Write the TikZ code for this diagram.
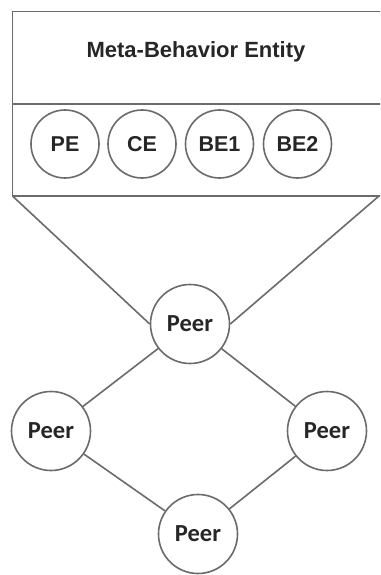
\documentclass[tikz,border=0pt]{standalone}
\usepackage{fontspec}
\setmainfont{Liberation Sans}
\newfontfamily\peerfont{Carlito}
\begin{document}
\begin{tikzpicture}[x=1pt,y=-1pt,
  frame/.style={draw=black!58,line width=1.7pt},
  link/.style={draw=black!58,line width=1.6pt},
  ent/.style={circle,draw=black!58,line width=1.6pt,minimum size=68pt,inner sep=0pt,
    font=\fontsize{21.5}{24}\selectfont\bfseries,text=black!85},
  peer/.style={circle,draw=black!58,line width=1.6pt,minimum size=79pt,inner sep=0pt,
    font=\peerfont\fontsize{24.5}{26}\selectfont\bfseries,text=black!85},
  title/.style={font=\fontsize{22}{24}\selectfont\bfseries,text=black!85}]
\useasboundingbox (0,0) rectangle (380,575);
\clip (0,0) rectangle (380,575);
\fill[white] (0,0) rectangle (380,575);
% entity box
\draw[frame] (12.5,11.5) rectangle (395,196);
\draw[frame] (12.5,104) -- (395,104);
\coordinate (bl) at (12.5,196);
\coordinate (br) at (379,196);
\node[title] (t) at (196,52) {Meta-Behavior Entity};
\node[ent] (pe) at (65,144) {PE};
\node[ent] (ce) at (142,144) {CE};
\node[ent] (be1) at (219.5,144) {BE1};
\node[ent] (be2) at (297.5,144) {BE2};
% peers
\node[peer] (p1) at (190,324) {Peer};
\node[peer] (p2) at (51,431) {Peer};
\node[peer] (p3) at (327,431) {Peer};
\node[peer] (p4) at (198,534) {Peer};
\draw[link] (bl) -- (p1.west);
\draw[link] (br) -- (p1.east);
\draw[link] (p1) -- (p2);
\draw[link] (p1) -- (p3);
\draw[link] (p2) -- (p4);
\draw[link] (p3) -- (p4);
\end{tikzpicture}
\end{document}
